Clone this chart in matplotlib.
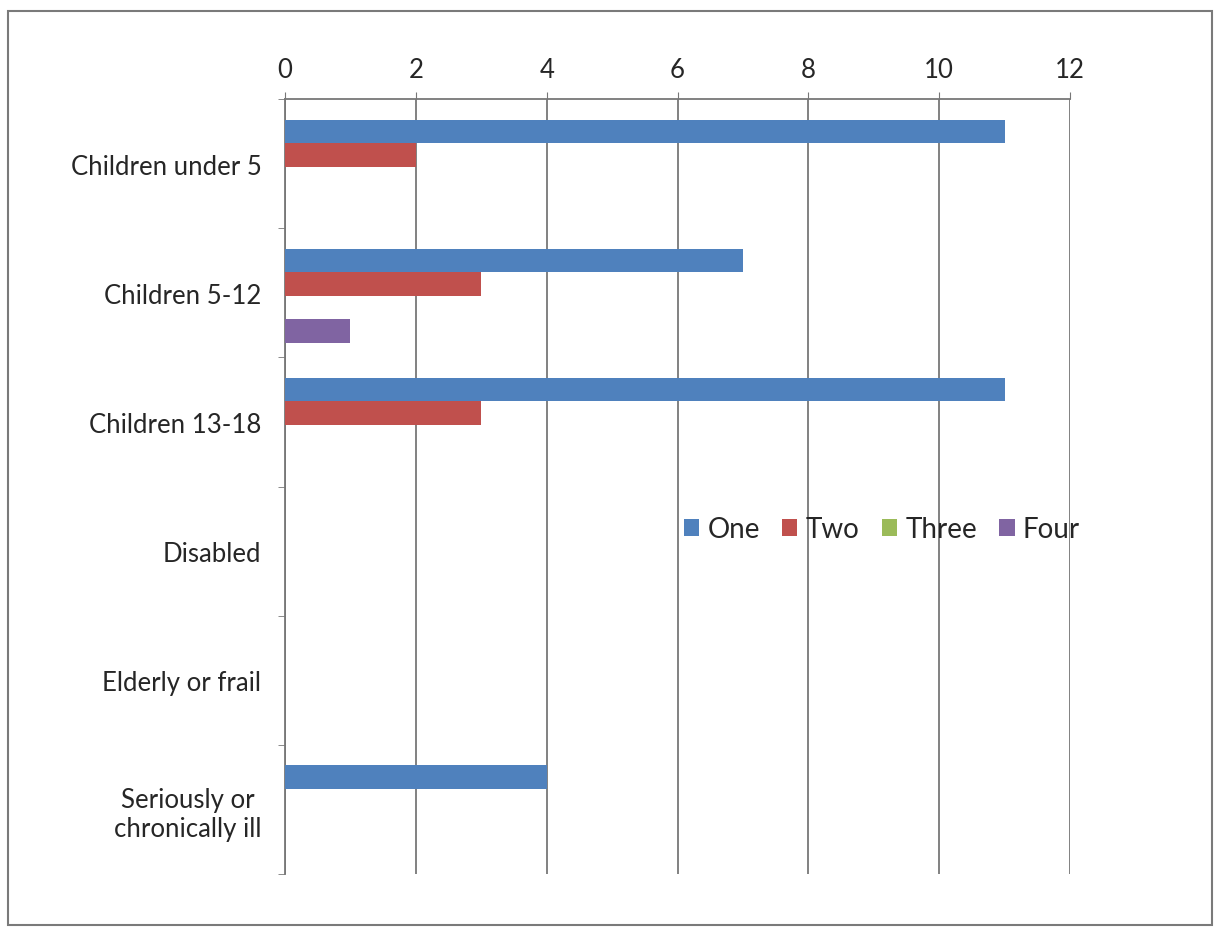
import matplotlib.pyplot as plt
import numpy as np
from matplotlib.patches import Rectangle

plt.rcParams['font.family'] = ['Lato', 'DejaVu Sans']

categories = ['Children under 5', 'Children 5-12', 'Children 13-18', 'Disabled',
              'Elderly or frail', 'Seriously or\nchronically ill']
series_names = ['One', 'Two', 'Three', 'Four']
one = [11, 7, 11, 0, 0, 4]
two = [2, 3, 3, 0, 0, 0]
three = [0, 0, 0, 0, 0, 0]
four = [0, 1, 0, 0, 0, 0]
colors = ['#4F81BD', '#C0504D', '#9BBB59', '#8064A2']
x_ticks = [0, 2, 4, 6, 8, 10, 12]

fig = plt.figure(figsize=(12.15, 9.29), dpi=100)
ax = fig.add_axes([285 / 1215, 1 - 875 / 929, 785 / 1215, 775 / 929])

# outer border like the scanned chart frame
fig.patches.append(Rectangle((8 / 1215, 3 / 929), 1204 / 1215, 914 / 929,
                             transform=fig.transFigure, fill=False,
                             edgecolor='#7a7a7a', linewidth=1.5))

bar_h = 1 / 5.5
gap = 0.159
y = np.arange(len(categories))
for j, (vals, name) in enumerate(zip([one, two, three, four], series_names)):
    pos = y - 0.5 + gap + (j + 0.5) * bar_h
    ax.barh(pos, vals, height=bar_h, color=colors[j], label=name, zorder=3)

ax.set_xlim(0, 12)
ax.set_ylim(len(categories) - 0.5, -0.5)
ax.xaxis.tick_top()
ax.set_xticks(x_ticks)
ax.set_xticklabels([str(t) for t in x_ticks])
ax.grid(axis='x', color='#777777', linewidth=1.3, zorder=1)

ax.set_yticks(y)
ax.set_yticklabels(categories, multialignment='center')
ax.set_yticks(np.arange(len(categories) + 1) - 0.5, minor=True)
ax.tick_params(axis='y', which='major', length=0, pad=17, labelsize=18.5,
               labelcolor='#262626')
ax.tick_params(axis='y', which='minor', length=5, color='#777777')
ax.tick_params(axis='x', length=5, color='#777777', pad=7, labelsize=18.5,
               labelcolor='#262626')

for s in ['right', 'bottom']:
    ax.spines[s].set_visible(False)
for s in ['top', 'left']:
    ax.spines[s].set_color('#777777')
    ax.spines[s].set_linewidth(1.3)

ax.legend(loc='center', bbox_to_anchor=(882 / 1215, 1 - 530 / 929),
          bbox_transform=fig.transFigure, ncol=4, frameon=False,
          fontsize=20, handlelength=0.55, handleheight=0.55,
          handletextpad=0.3, columnspacing=0.8, labelcolor='#262626')

fig.savefig('out.png', dpi=100)
